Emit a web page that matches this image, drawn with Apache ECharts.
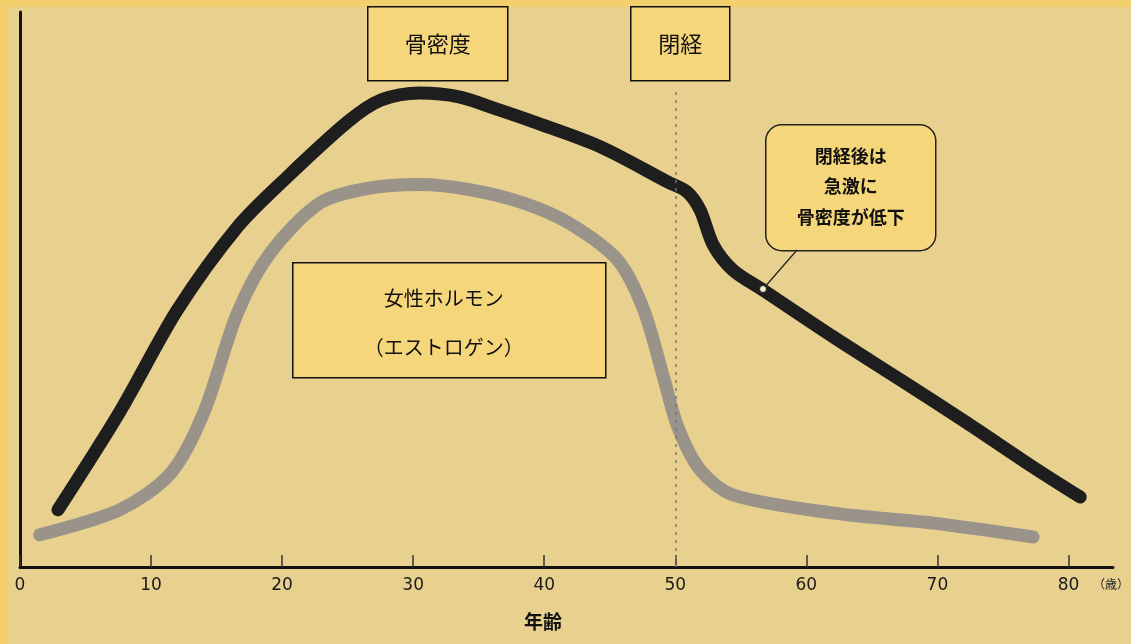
<!DOCTYPE html>
<html>
<head>
<meta charset="utf-8">
<script src="https://cdn.jsdelivr.net/npm/echarts@6/dist/echarts.min.js"></script>
<style>
html,body{margin:0;padding:0;background:#e8d08e;}
#c{width:1131px;height:644px;}
</style>
</head>
<body>
<div id="c"></div>
<script>
// Data (age in years, relative level 0-100)
const xTicks = [0, 10, 20, 30, 40, 50, 60, 70, 80];
const boneAge = [2.9, 7.6, 12.0, 16.6, 20.4, 25.0, 27.5, 30.5, 33.5, 36.5, 39.2, 44.3, 49.4, 50.9, 51.9, 52.9, 54.4, 56.7, 62.1, 67.2, 72.3, 77.3, 80.9];
const boneVal = [10.3, 27.9, 46.3, 61.3, 70.3, 80.2, 84.1, 85.4, 84.7, 82.4, 80.2, 75.7, 69.4, 67.6, 64.3, 58.0, 53.5, 49.9, 41.4, 33.7, 25.9, 18.0, 12.6];
const estAge = [1.5, 7.6, 11.5, 14.0, 16.6, 19.1, 22.9, 26.5, 30.5, 34.5, 38.5, 42.0, 45.6, 47.6, 49.1, 50.2, 51.9, 54.4, 62.1, 69.7, 77.3];
const estVal = [5.8, 10.3, 16.9, 27.7, 45.8, 56.6, 65.6, 68.2, 68.9, 67.9, 65.5, 61.8, 55.3, 46.3, 34.2, 25.2, 17.5, 13.0, 9.7, 7.9, 5.4];
const menopauseAge = 50;
const labelBone = '骨密度';
const labelMeno = '閉経';
const labelHormone1 = '女性ホルモン';
const labelHormone2 = '（エストロゲン）';
const calloutLines = ['閉経後は', '急激に', '骨密度が低下'];
const xName = '年齢';
const xUnit = '（歳）';

const bone = boneAge.map((a, i) => [a, boneVal[i]]);
const est = estAge.map((a, i) => [a, estVal[i]]);

const font = '"Noto Sans CJK JP", "Noto Sans", sans-serif';
const boxFill = '#f6d67a';

const chart = echarts.init(document.getElementById('c'));
chart.setOption({
  backgroundColor: '#e8d08e',
  animation: false,
  grid: {left: 20, right: 18, top: 12, bottom: 77},
  xAxis: {
    type: 'value', min: 0, max: 83.4,
    axisLine: {lineStyle: {color: '#111', width: 3}},
    axisTick: {inside: true, length: 12, customValues: xTicks, lineStyle: {color: '#333', width: 1.5}},
    axisLabel: {customValues: xTicks, color: '#1a1a1a', fontSize: 17, fontFamily: 'DejaVu Sans', margin: 10},
    splitLine: {show: false}
  },
  yAxis: {
    type: 'value', min: 0, max: 100,
    axisLine: {show: true, lineStyle: {color: '#111', width: 3}},
    axisTick: {show: false}, axisLabel: {show: false}, splitLine: {show: false}
  },
  series: [
    {
      type: 'line', data: est, smooth: 0.3, symbol: 'none',
      lineStyle: {color: '#99938a', width: 13, cap: 'round', join: 'round'},
      z: 2
    },
    {
      type: 'line', data: bone, smooth: 0.3, symbol: 'none',
      lineStyle: {color: '#1e1e1e', width: 13, cap: 'round', join: 'round'},
      z: 3,
      markLine: {
        silent: true, symbol: 'none', label: {show: false},
        lineStyle: {color: '#777', type: [3, 5], width: 1.5},
        data: [[{coord: [menopauseAge, 0]}, {coord: [menopauseAge, 86.5]}]]
      }
    }
  ],
  graphic: [
    {type: 'rect', left: 0, top: 0, shape: {width: 1131, height: 7}, style: {fill: '#f3d06c'}, z: 0},
    {type: 'rect', left: 0, top: 0, shape: {width: 7, height: 644}, style: {fill: '#f3d06c'}, z: 0},
    // 骨密度 box
    {type: 'group', left: 367, top: 6, children: [
      {type: 'rect', shape: {x: 0, y: 0, width: 140, height: 74}, style: {fill: boxFill, stroke: '#111', lineWidth: 1.5}},
      {type: 'text', x: 70, y: 37, style: {text: labelBone, fill: '#111', font: '22px ' + font, align: 'center', verticalAlign: 'middle'}}
    ]},
    // 閉経 box
    {type: 'group', left: 630, top: 6, children: [
      {type: 'rect', shape: {x: 0, y: 0, width: 99, height: 74}, style: {fill: boxFill, stroke: '#111', lineWidth: 1.5}},
      {type: 'text', x: 49.5, y: 37, style: {text: labelMeno, fill: '#111', font: '22px ' + font, align: 'center', verticalAlign: 'middle'}}
    ]},
    // Hormone box
    {type: 'group', left: 292, top: 262, z: 10, children: [
      {type: 'rect', shape: {x: 0, y: 0, width: 313, height: 115}, style: {fill: boxFill, stroke: '#111', lineWidth: 1.5}},
      {type: 'text', x: 151, y: 36, style: {text: labelHormone1, fill: '#111', font: '20px ' + font, align: 'center', verticalAlign: 'middle'}},
      {type: 'text', x: 151, y: 85, style: {text: labelHormone2, fill: '#111', font: '20px ' + font, align: 'center', verticalAlign: 'middle'}}
    ]},
    // callout
    {type: 'line', shape: {x1: 797, y1: 250, x2: 763, y2: 289}, style: {stroke: '#222', lineWidth: 1.2}, z: 20},
    {type: 'circle', shape: {cx: 763, cy: 289, r: 3.5}, style: {fill: '#f8f0c8', stroke: '#222', lineWidth: 1}, z: 21},
    {type: 'group', left: 765, top: 124, z: 20, children: [
      {type: 'rect', shape: {x: 0, y: 0, width: 170, height: 126, r: 16}, style: {fill: boxFill, stroke: '#222', lineWidth: 1.5}},
      {type: 'text', x: 85, y: 31, style: {text: calloutLines[0], fill: '#111', font: 'bold 18px ' + font, align: 'center', verticalAlign: 'middle'}},
      {type: 'text', x: 85, y: 61, style: {text: calloutLines[1], fill: '#111', font: 'bold 18px ' + font, align: 'center', verticalAlign: 'middle'}},
      {type: 'text', x: 85, y: 92, style: {text: calloutLines[2], fill: '#111', font: 'bold 18px ' + font, align: 'center', verticalAlign: 'middle'}}
    ]},
    // axis name and unit
    {type: 'text', left: 524, top: 612, style: {text: xName, fill: '#111', font: 'bold 19px ' + font}},
    {type: 'text', left: 1093, top: 578, style: {text: xUnit, fill: '#222', font: '12px ' + font}}
  ]
});
</script>
</body>
</html>
